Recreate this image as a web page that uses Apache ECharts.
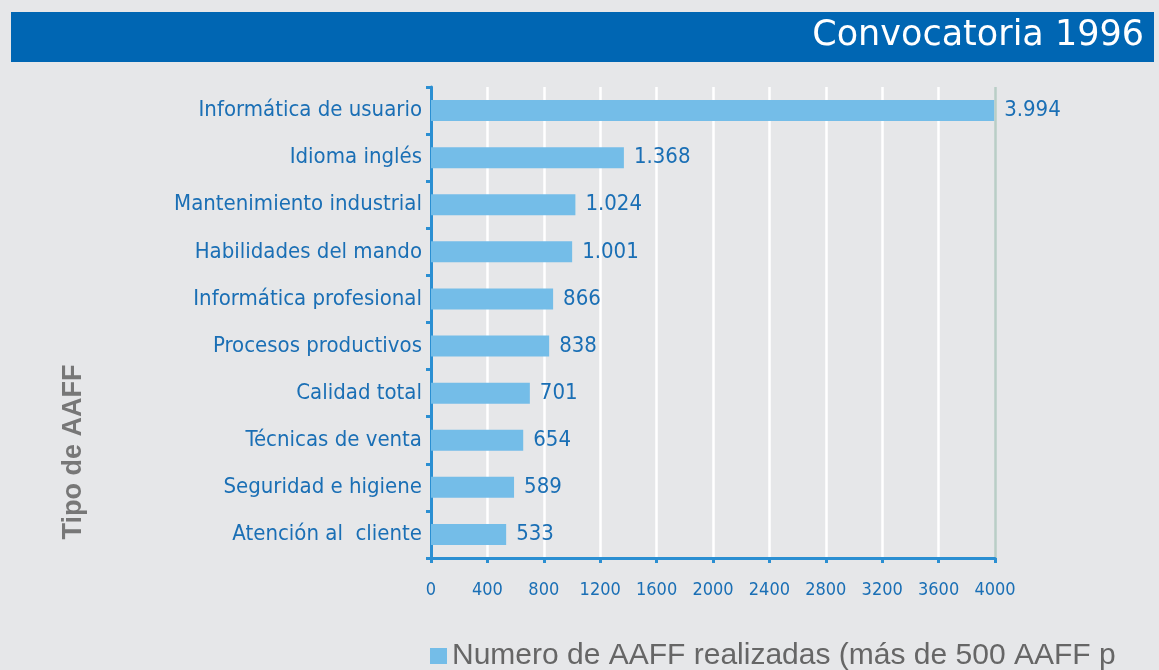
<!DOCTYPE html>
<html><head><meta charset="utf-8">
<script src="https://cdn.jsdelivr.net/npm/echarts@6/dist/echarts.min.js"></script>
<style>html,body{margin:0;padding:0;background:#E6E7E9;}#c{width:1159px;height:670px;}</style>
</head><body><div id="c"></div>
<script>
const categories = ["Informática de usuario","Idioma inglés","Mantenimiento industrial","Habilidades del mando","Informática profesional","Procesos productivos","Calidad total","Técnicas de venta","Seguridad e higiene","Atención al  cliente"];
const values = [3994,1368,1024,1001,866,838,701,654,589,533];
const seriesName = "Numero de AAFF realizadas (más de 500 AAFF p";
const titleText = "Convocatoria 1996";
const yAxisName = "Tipo de AAFF";

const font = '"Liberation Sans Narrow","DejaVu Sans Condensed","Roboto",sans-serif';
const gridColors = ['#FFFFFF','#FFFFFF','#FFFFFF','#FFFFFF','#FFFFFF','#FFFFFF','#FFFFFF','#FFFFFF','#FFFFFF','#FFFFFF','#B9CEC6'];
const chart = echarts.init(document.getElementById('c'));
chart.setOption({
  backgroundColor: '#E6E7E9',
  animation: false,
  graphic: [
    {type:'rect', shape:{x:11,y:12,width:1143,height:50}, style:{fill:'#0066B3'}},
    {type:'text', x: 1144, y: 36, style:{text:titleText, fill:'#fff', font:'35px "DejaVu Sans", sans-serif', align:'right', verticalAlign:'middle'}},
    {type:'text', x: 74, y: 452, rotation: Math.PI/2, style:{text:yAxisName, fill:'#777', font:'bold 27px "Liberation Sans", Arial, sans-serif', align:'center', verticalAlign:'middle'}}
  ],
  legend: {
    left: 430, top: 641, itemWidth: 17, itemHeight: 16, itemGap: 8,
    icon: 'rect', padding: 0,
    textStyle: {color:'#666', fontSize: 30, fontFamily: '"Liberation Sans", Arial, sans-serif', padding:[0,0,0,0]},
    data: [seriesName]
  },
  grid: {left: 431, right: 164, top: 87, bottom: 112, containLabel: false},
  xAxis: {
    type: 'value', min: 0, max: 4000, interval: 400,
    axisLine: {show:true, lineStyle:{color:'#2B8FD2', width:3}},
    axisTick: {show:true, length:5, lineStyle:{color:'#2B8FD2', width:3}},
    axisLabel: {color:'#1A6FB5', fontSize:18, fontFamily:font, margin:23, formatter: v => String(v)},
    splitLine: {show:true, lineStyle:{color:gridColors, width:2.5}}
  },
  yAxis: {
    type: 'category', inverse: true, data: categories,
    axisLine: {show:true, lineStyle:{color:'#2B8FD2', width:3}},
    axisTick: {show:true, length:5, lineStyle:{color:'#2B8FD2', width:3}},
    axisLabel: {color:'#1A6FB5', fontSize:22, fontFamily:font, margin:9}
  },
  series: [{
    name: seriesName, type: 'bar', data: values, barWidth: 21,
    itemStyle: {color:'#74BDE8'},
    label: {show:true, position:'right', distance:10, color:'#1A6FB5', fontSize:22, fontFamily:font,
      formatter: p => p.value.toString().replace(/\B(?=(\d{3})+(?!\d))/g,'.')}
  }]
});
</script></body></html>
